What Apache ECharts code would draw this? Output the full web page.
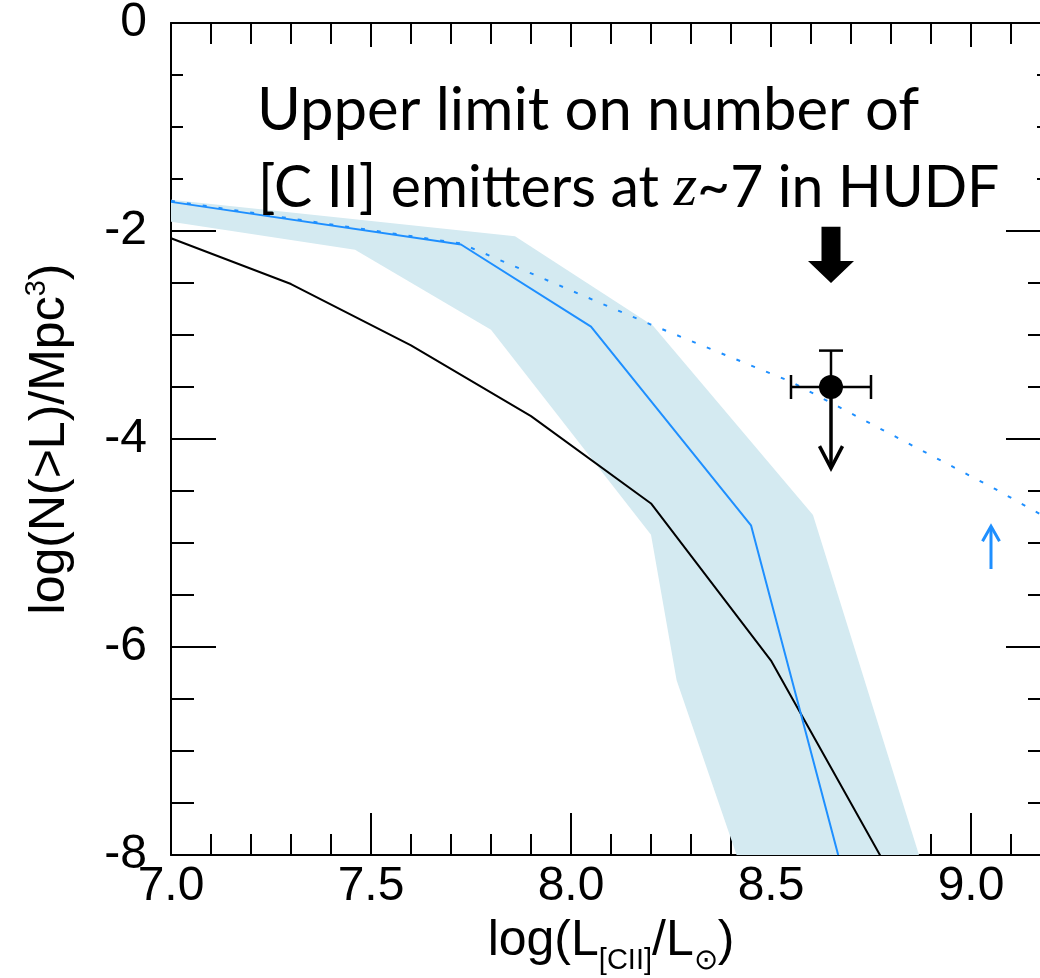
<!DOCTYPE html>
<html><head><meta charset="utf-8">
<script src="https://cdn.jsdelivr.net/npm/echarts@6/dist/echarts.min.js"></script>
<style>html,body{margin:0;padding:0;background:#fff}#c{width:1040px;height:978px}</style>
</head><body><div id="c"></div>
<script>
// ---- data ----
const xTickLabels = ['7.0', '7.5', '8.0', '8.5', '9.0'];
const yTickLabels = ['-8', '-6', '-4', '-2', '0'];

const blackX = [7.0, 7.3, 7.6, 7.9, 8.2, 8.5, 8.8];
const blackY = [-2.07, -2.51, -3.1, -3.78, -4.62, -6.13, -8.19];

const blueX = [7.0, 7.725, 8.05, 8.45, 8.668];
const blueY = [-1.72, -2.13, -2.92, -4.83, -8.0];

const dottedX = [7.0, 7.725, 8.2, 8.55, 9.06, 9.2];
const dottedY = [-1.71, -2.12, -2.9, -3.45, -4.48, -4.78];

const bandUpX = [7.0, 7.86, 8.205, 8.605, 8.87];
const bandUpY = [-1.70, -2.05, -2.91, -4.73, -8.0];
const bandLoX = [7.0, 7.46, 7.80, 8.2, 8.264, 8.414];
const bandLoY = [-1.91, -2.18, -2.95, -4.92, -6.32, -8.0];

const ptX = [8.65], ptY = [-3.5], ptXErr = [0.1], ptYErrUp = [0.35], ptLimitTip = [-4.28];
const bigArrowX = [8.65], bigArrowTop = [-1.96], bigArrowTip = [-2.5];
const blueArrowX = [9.05], blueArrowBottom = [-5.25], blueArrowTip = [-4.84];

// ---- styles ----
const FONT = 'Liberation Sans';
const BLUE = '#1e8fff';
const BAND = '#d4eaf1';
const zip = (xs, ys) => xs.map((x, i) => [x, ys[i]]);

function xLabel(v) {
  const i = Math.round((v - 7) / 0.5);
  return (Math.abs(v - (7 + i * 0.5)) < 1e-6 && xTickLabels[i]) ? xTickLabels[i] : '';
}
function yLabel(v) {
  const i = Math.round((v + 8) / 2);
  return (Math.abs(v - (-8 + i * 2)) < 1e-6 && yTickLabels[i] !== undefined) ? yTickLabels[i] : '';
}

function xAx(pos, interval, len, main) {
  return {
    type: 'value', position: pos, min: 7, max: 9.2, interval: interval,
    splitLine: { show: false },
    axisLine: { show: main, onZero: false, lineStyle: { color: '#000', width: 2 } },
    axisTick: { show: true, inside: true, length: len, lineStyle: { color: '#000', width: 2 } },
    axisLabel: { show: false },
  };
}
function yAx(pos, interval, len, main) {
  return {
    type: 'value', position: pos, min: -8, max: 0, interval: interval,
    splitLine: { show: false },
    axisLine: { show: main, onZero: false, lineStyle: { color: '#000', width: 2 } },
    axisTick: { show: true, inside: true, length: len, lineStyle: { color: '#000', width: 2 } },
    axisLabel: { show: false },
  };
}

const xMain = xAx('bottom', 0.5, 42, true);
xMain.axisLabel = { show: true, formatter: xLabel, fontFamily: FONT, fontSize: 48, color: '#000', margin: 8, showMaxLabel: false, showMinLabel: true };
xMain.name = '{m|log(L}{s|[CII]}{m|/L}{s|\u2299}{m|)}';
xMain.nameLocation = 'middle';
xMain.nameGap = 61;
xMain.nameTextStyle = {
  color: '#000', fontFamily: FONT,
  rich: {
    m: { fontFamily: FONT, fontSize: 50, lineHeight: 50, verticalAlign: 'top', color: '#000' },
    s: { fontFamily: FONT, fontSize: 29, lineHeight: 29, verticalAlign: 'top', padding: [30, 0, 0, 0], color: '#000' }
  }
};

const yMain = yAx('left', 2, 45, true);
yMain.axisLabel = { show: true, formatter: yLabel, fontFamily: FONT, fontSize: 48, color: '#000', margin: 24, showMaxLabel: true, showMinLabel: true };
yMain.name = '{m|log(N(>L)/Mpc}{p|3}{m|)}';
yMain.nameLocation = 'middle';
yMain.nameGap = 99;
yMain.nameMoveOverlap = false;
yMain.nameTextStyle = {
  color: '#000', fontFamily: FONT,
  rich: {
    m: { fontFamily: FONT, fontSize: 50, lineHeight: 50, verticalAlign: 'top', padding: [3, 0, 0, 0], color: '#000' },
    p: { fontFamily: FONT, fontSize: 29, lineHeight: 29, verticalAlign: 'top', color: '#000' }
  }
};

// annotation font fitting
function fitFont(text, family, target) {
  const ctx = document.createElement('canvas').getContext('2d');
  ctx.font = '100px "' + family + '"';
  const w = ctx.measureText(text).width;
  return w > 0 ? 100 * target / w : 58;
}
const ANN_FONT = 'Lato';
const line1 = 'Upper limit on number of';
const annSize = fitFont(line1, ANN_FONT, 662);
const annSize2 = Math.min(annSize, fitFont('[C II] emitters at z~7 in HUDF', ANN_FONT, 744));

const chart = echarts.init(document.getElementById('c'), null, { renderer: 'canvas' });

const option = {
  backgroundColor: '#fff',
  animation: false,
  grid: { left: 171, top: 23, right: -11, bottom: 123, containLabel: false, outerBoundsMode: 'none' },
  xAxis: [xMain, xAx('bottom', 0.1, 21, false), xAx('top', 0.5, 42, true), xAx('top', 0.1, 21, false)],
  yAxis: [yMain, yAx('left', 0.5, 23, false), yAx('right', 2, 45, true), yAx('right', 0.5, 23, false)],
  series: [
    {
      type: 'custom', name: 'band', xAxisIndex: 0, yAxisIndex: 0, z: 1, clip: true,
      data: zip(bandUpX, bandUpY),
      renderItem: function (params, api) {
        if (params.dataIndex !== 0) return null;
        const pts = zip(bandUpX, bandUpY).concat(zip(bandLoX, bandLoY).reverse()).map(p => api.coord(p));
        return { type: 'polygon', shape: { points: pts }, style: { fill: BAND } };
      }
    },
    {
      type: 'line', name: 'black', data: zip(blackX, blackY), symbol: 'none', z: 3, clip: true,
      lineStyle: { color: '#000', width: 2 }
    },
    {
      type: 'line', name: 'blue', data: zip(blueX, blueY), symbol: 'none', z: 4, clip: true,
      lineStyle: { color: BLUE, width: 2 }
    },
    {
      type: 'line', name: 'dotted', data: zip(dottedX, dottedY), symbol: 'none', z: 5, clip: true,
      lineStyle: { color: BLUE, width: 2, type: [4, 12] }
    },
    {
      type: 'custom', name: 'point', z: 6,
      data: zip(ptX, ptY),
      renderItem: function (params, api) {
        const i = params.dataIndex;
        const c = api.coord([ptX[i], ptY[i]]);
        const xl = api.coord([ptX[i] - ptXErr[i], ptY[i]]);
        const xr = api.coord([ptX[i] + ptXErr[i], ptY[i]]);
        const yt = api.coord([ptX[i], ptY[i] + ptYErrUp[i]]);
        const tip = api.coord([ptX[i], ptLimitTip[i]]);
        const st = { stroke: '#000', lineWidth: 2.5, fill: null };
        const sa = { stroke: '#000', lineWidth: 3.5, fill: null };
        return {
          type: 'group', children: [
            { type: 'line', shape: { x1: xl[0], y1: xl[1], x2: xr[0], y2: xr[1] }, style: st },
            { type: 'line', shape: { x1: xl[0], y1: xl[1] - 12, x2: xl[0], y2: xl[1] + 12 }, style: st },
            { type: 'line', shape: { x1: xr[0], y1: xr[1] - 12, x2: xr[0], y2: xr[1] + 12 }, style: st },
            { type: 'line', shape: { x1: c[0], y1: c[1], x2: yt[0], y2: yt[1] }, style: st },
            { type: 'line', shape: { x1: yt[0] - 12, y1: yt[1], x2: yt[0] + 12, y2: yt[1] }, style: st },
            { type: 'line', shape: { x1: c[0], y1: c[1], x2: tip[0], y2: tip[1] }, style: sa },
            { type: 'polyline', shape: { points: [[tip[0] - 11.5, tip[1] - 22], [tip[0], tip[1]], [tip[0] + 11.5, tip[1] - 22]] }, style: sa },
            { type: 'circle', shape: { cx: c[0], cy: c[1], r: 12 }, style: { fill: '#000' } }
          ]
        };
      }
    },
    {
      type: 'custom', name: 'bigArrow', z: 6,
      data: zip(bigArrowX, bigArrowTop),
      renderItem: function (params, api) {
        const i = params.dataIndex;
        const t = api.coord([bigArrowX[i], bigArrowTop[i]]);
        const p = api.coord([bigArrowX[i], bigArrowTip[i]]);
        const hy = p[1] - 22;
        return {
          type: 'polygon',
          shape: { points: [[t[0] - 9.5, t[1]], [t[0] + 9.5, t[1]], [t[0] + 9.5, hy], [t[0] + 23, hy], [p[0], p[1]], [t[0] - 23, hy], [t[0] - 9.5, hy]] },
          style: { fill: '#000' }
        };
      }
    },
    {
      type: 'custom', name: 'blueArrow', z: 6,
      data: zip(blueArrowX, blueArrowBottom),
      renderItem: function (params, api) {
        const i = params.dataIndex;
        const b = api.coord([blueArrowX[i], blueArrowBottom[i]]);
        const p = api.coord([blueArrowX[i], blueArrowTip[i]]);
        const s = { stroke: BLUE, lineWidth: 3, fill: null };
        return {
          type: 'group', children: [
            { type: 'line', shape: { x1: b[0], y1: b[1], x2: p[0], y2: p[1] + 1 }, style: s },
            { type: 'polyline', shape: { points: [[p[0] - 8.5, p[1] + 15], [p[0], p[1]], [p[0] + 8.5, p[1] + 15]] }, style: s }
          ]
        };
      }
    }
  ],
  graphic: [
    { type: 'rect', zlevel: 1, z: 100, shape: { x: 183, y: 47, width: 854, height: 151 }, style: { fill: '#fff' } },
    {
      type: 'text', zlevel: 1, z: 101, x: 257, y: 111,
      style: { text: line1, font: annSize.toFixed(1) + 'px "' + ANN_FONT + '"', fill: '#000', verticalAlign: 'middle', align: 'left' }
    },
    {
      type: 'text', zlevel: 1, z: 101, x: 258, y: 189,
      style: {
        text: '{n|[C II] emitters at }{z|z}{n|~7 in HUDF}',
        fill: '#000', verticalAlign: 'middle', align: 'left',
        rich: {
          n: { fontFamily: ANN_FONT, fontSize: annSize2, fill: '#000', color: '#000' },
          z: { fontFamily: 'Liberation Serif', fontStyle: 'italic', fontSize: annSize2 * 1.05, fill: '#000', color: '#000' }
        }
      }
    }
  ]
};
chart.setOption(option);
</script>
</body></html>
